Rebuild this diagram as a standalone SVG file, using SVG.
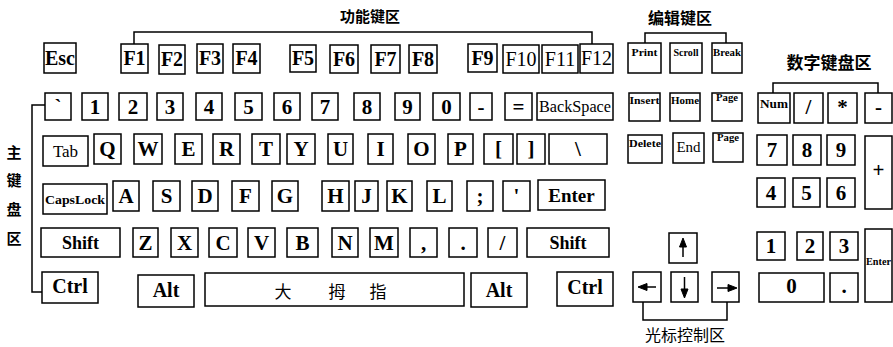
<svg xmlns="http://www.w3.org/2000/svg" width="893" height="347" viewBox="0 0 893 347">
<style>
.k{fill:#fff;stroke:#000;stroke-width:1.5}
.t{font-family:"Liberation Serif","Times New Roman",serif;font-weight:bold;font-size:21px;text-anchor:middle;fill:#000}
.r{font-weight:normal}
.sm{font-size:11px}
.cj{font-family:"Noto Sans CJK SC","Noto Sans",sans-serif;font-weight:bold;text-anchor:middle;fill:#000}
.nw{font-weight:normal}
.ln{fill:none;stroke:#000;stroke-width:1.5}
.ar{fill:#000;stroke:#000;stroke-width:1}
</style>
<rect width="893" height="347" fill="#fff"/>

<g id="labels">
<text class="cj" x="370" y="22" style="font-size:15px">功能键区</text>
<text class="cj" x="680" y="24" style="font-size:16px">编辑键区</text>
<text class="cj" x="829" y="69" style="font-size:17px">数字键盘区</text>
<text class="cj nw" x="685" y="341" style="font-size:16px">光标控制区</text>
<text class="cj" x="14" y="158" style="font-size:15px">主</text>
<text class="cj" x="14" y="186" style="font-size:15px">键</text>
<text class="cj" x="14" y="215" style="font-size:15px">盘</text>
<text class="cj" x="14" y="244" style="font-size:15px">区</text>
</g>

<g id="connectors">
<polyline class="ln" points="134,44 134,32 592,32 592,44"/>
<polyline class="ln" points="645,43 645,33 726,33 726,43"/>
<polyline class="ln" points="773,93 773,83 878,83 878,93"/>
<polyline class="ln" points="45,105 32,105 32,292 42,292"/>
<polyline class="ln" points="643,302 643,320 727,320 727,302"/>
</g>

<!-- Row 1 -->
<g id="k-esc"><rect class="k" x="44" y="43" width="32" height="30"/><text class="t" x="60" y="65" style="font-size:20px">Esc</text></g>
<g id="k-f1"><rect class="k" x="121" y="44" width="27" height="29"/><text class="t" x="134.5" y="65" style="font-size:20px">F1</text></g>
<g id="k-f2"><rect class="k" x="159" y="45" width="26" height="29"/><text class="t" x="172" y="66" style="font-size:20px">F2</text></g>
<g id="k-f3"><rect class="k" x="197" y="44" width="26" height="29"/><text class="t" x="210" y="65" style="font-size:20px">F3</text></g>
<g id="k-f4"><rect class="k" x="233" y="44" width="27" height="29"/><text class="t" x="246.5" y="65" style="font-size:20px">F4</text></g>
<g id="k-f5"><rect class="k" x="290" y="45" width="26" height="27"/><text class="t" x="303" y="65" style="font-size:20px">F5</text></g>
<g id="k-f6"><rect class="k" x="330" y="45" width="28" height="28"/><text class="t" x="344" y="66" style="font-size:20px">F6</text></g>
<g id="k-f7"><rect class="k" x="371" y="45" width="29" height="28"/><text class="t" x="385.5" y="66" style="font-size:20px">F7</text></g>
<g id="k-f8"><rect class="k" x="409" y="45" width="28" height="28"/><text class="t" x="423" y="66" style="font-size:20px">F8</text></g>
<g id="k-f9"><rect class="k" x="468" y="44" width="29" height="28"/><text class="t" x="482.5" y="65" style="font-size:20px">F9</text></g>
<g id="k-f10"><rect class="k" x="503" y="45" width="36" height="28"/><text class="t r" x="521" y="66" style="font-size:20px">F10</text></g>
<g id="k-f11"><rect class="k" x="542" y="45" width="36" height="28"/><text class="t r" x="560" y="66" style="font-size:20px">F11</text></g>
<g id="k-f12"><rect class="k" x="580" y="44" width="33" height="29"/><text class="t r" x="596.5" y="65" style="font-size:20px">F12</text></g>
<g id="k-print"><rect class="k" x="628" y="43" width="33" height="30"/><text class="t sm" x="644.5" y="56" textLength="26" lengthAdjust="spacingAndGlyphs">Print</text></g>
<g id="k-scroll"><rect class="k" x="670" y="43" width="32" height="30"/><text class="t sm" x="686" y="56" textLength="25" lengthAdjust="spacingAndGlyphs">Scroll</text></g>
<g id="k-break"><rect class="k" x="712" y="43" width="30" height="30"/><text class="t sm" x="727" y="56" textLength="28" lengthAdjust="spacingAndGlyphs">Break</text></g>

<!-- Row 2 -->
<g id="k-grave"><rect class="k" x="45" y="93" width="26" height="27"/><text class="t" x="58" y="114">`</text></g>
<g id="k-1"><rect class="k" x="82" y="93" width="26" height="27"/><text class="t" x="95" y="114">1</text></g>
<g id="k-2"><rect class="k" x="119" y="93" width="28" height="27"/><text class="t" x="133" y="114">2</text></g>
<g id="k-3"><rect class="k" x="157" y="93" width="26" height="27"/><text class="t" x="170" y="114">3</text></g>
<g id="k-4"><rect class="k" x="196" y="93" width="26" height="27"/><text class="t" x="209" y="114">4</text></g>
<g id="k-5"><rect class="k" x="235" y="93" width="27" height="27"/><text class="t" x="248.5" y="114">5</text></g>
<g id="k-6"><rect class="k" x="274" y="93" width="26" height="27"/><text class="t" x="287" y="114">6</text></g>
<g id="k-7"><rect class="k" x="312" y="93" width="26" height="27"/><text class="t" x="325" y="114">7</text></g>
<g id="k-8"><rect class="k" x="354" y="93" width="26" height="27"/><text class="t" x="367" y="114">8</text></g>
<g id="k-9"><rect class="k" x="395" y="93" width="25" height="27"/><text class="t" x="407.5" y="114">9</text></g>
<g id="k-0"><rect class="k" x="433" y="93" width="27" height="27"/><text class="t" x="446.5" y="114">0</text></g>
<g id="k-minus"><rect class="k" x="470" y="93" width="22" height="27"/><text class="t" x="481" y="114">-</text></g>
<g id="k-equal"><rect class="k" x="505" y="93" width="27" height="27"/><text class="t" x="518.5" y="114">=</text></g>
<g id="k-backspace"><rect class="k" x="537" y="93" width="76" height="27"/><text class="t r" x="575" y="112" style="font-size:16px" textLength="72" lengthAdjust="spacingAndGlyphs">BackSpace</text></g>
<g id="k-insert"><rect class="k" x="629" y="93" width="31" height="28"/><text class="t sm" x="644.5" y="104" textLength="30" lengthAdjust="spacingAndGlyphs">Insert</text></g>
<g id="k-home"><rect class="k" x="670" y="93" width="30" height="28"/><text class="t sm" x="685" y="104" textLength="28" lengthAdjust="spacingAndGlyphs">Home</text></g>
<g id="k-pageup"><rect class="k" x="712" y="93" width="30" height="28"/><text class="t sm" x="727" y="101" textLength="22" lengthAdjust="spacingAndGlyphs">Page</text></g>
<g id="k-num"><rect class="k" x="758" y="93" width="32" height="30"/><text class="t" x="774" y="108" style="font-size:12px" textLength="28" lengthAdjust="spacingAndGlyphs">Num</text></g>
<g id="k-div"><rect class="k" x="794" y="93" width="29" height="30"/><text class="t" x="808.5" y="114">/</text></g>
<g id="k-mul"><rect class="k" x="828" y="93" width="29" height="30"/><text class="t" x="842.5" y="114">*</text></g>
<g id="k-sub"><rect class="k" x="865" y="93" width="27" height="30"/><text class="t" x="878.5" y="114">-</text></g>

<!-- Row 3 -->
<g id="k-tab"><rect class="k" x="43" y="136" width="45" height="30"/><text class="t r" x="65.5" y="157" style="font-size:17px">Tab</text></g>
<g id="k-q"><rect class="k" x="94" y="134" width="27" height="30"/><text class="t" x="107.5" y="156">Q</text></g>
<g id="k-w"><rect class="k" x="134" y="134" width="28" height="30"/><text class="t" x="148" y="156">W</text></g>
<g id="k-e"><rect class="k" x="175" y="134" width="27" height="30"/><text class="t" x="188.5" y="156">E</text></g>
<g id="k-r"><rect class="k" x="213" y="134" width="27" height="30"/><text class="t" x="226.5" y="156">R</text></g>
<g id="k-t"><rect class="k" x="252" y="134" width="28" height="30"/><text class="t" x="266" y="156">T</text></g>
<g id="k-y"><rect class="k" x="287" y="134" width="28" height="30"/><text class="t" x="301" y="156">Y</text></g>
<g id="k-u"><rect class="k" x="328" y="134" width="25" height="30"/><text class="t" x="340.5" y="156">U</text></g>
<g id="k-i"><rect class="k" x="368" y="134" width="25" height="30"/><text class="t" x="380.5" y="156">I</text></g>
<g id="k-o"><rect class="k" x="408" y="134" width="27" height="30"/><text class="t" x="421.5" y="156">O</text></g>
<g id="k-p"><rect class="k" x="448" y="134" width="25" height="30"/><text class="t" x="460.5" y="156">P</text></g>
<g id="k-lbr"><rect class="k" x="484" y="134" width="29" height="30"/><text class="t" x="498.5" y="156">[</text></g>
<g id="k-rbr"><rect class="k" x="517" y="134" width="28" height="30"/><text class="t" x="531" y="156">]</text></g>
<g id="k-bslash"><rect class="k" x="549" y="134" width="58" height="30"/><text class="t" x="578" y="156">\</text></g>
<g id="k-delete"><rect class="k" x="628" y="135" width="34" height="28"/><text class="t sm" x="645" y="147" textLength="32" lengthAdjust="spacingAndGlyphs">Delete</text></g>
<g id="k-end"><rect class="k" x="673" y="133" width="31" height="30"/><text class="t r" x="688.5" y="152" style="font-size:15px">End</text></g>
<g id="k-pagedown"><rect class="k" x="713" y="133" width="30" height="29"/><text class="t sm" x="728" y="141" textLength="22" lengthAdjust="spacingAndGlyphs">Page</text></g>
<g id="k-n7"><rect class="k" x="757" y="135" width="30" height="30"/><text class="t" x="772" y="157">7</text></g>
<g id="k-n8"><rect class="k" x="793" y="135" width="28" height="30"/><text class="t" x="807" y="157">8</text></g>
<g id="k-n9"><rect class="k" x="827" y="135" width="28" height="30"/><text class="t" x="841" y="157">9</text></g>
<g id="k-plus"><rect class="k" x="865" y="136" width="27" height="73"/><text class="t" x="878.5" y="177">+</text></g>

<!-- Row 4 -->
<g id="k-caps"><rect class="k" x="43" y="184" width="64" height="30"/><text class="t" x="75" y="204" style="font-size:12.5px" textLength="60" lengthAdjust="spacingAndGlyphs">CapsLock</text></g>
<g id="k-a"><rect class="k" x="113" y="181" width="26" height="30"/><text class="t" x="126" y="203">A</text></g>
<g id="k-s"><rect class="k" x="153" y="181" width="27" height="30"/><text class="t" x="166.5" y="203">S</text></g>
<g id="k-d"><rect class="k" x="192" y="181" width="26" height="30"/><text class="t" x="205" y="203">D</text></g>
<g id="k-f"><rect class="k" x="232" y="181" width="27" height="30"/><text class="t" x="245.5" y="203">F</text></g>
<g id="k-g"><rect class="k" x="272" y="181" width="26" height="30"/><text class="t" x="285" y="203">G</text></g>
<g id="k-h"><rect class="k" x="322" y="181" width="27" height="30"/><text class="t" x="335.5" y="203">H</text></g>
<g id="k-j"><rect class="k" x="355" y="181" width="23" height="30"/><text class="t" x="366.5" y="203">J</text></g>
<g id="k-k"><rect class="k" x="387" y="181" width="25" height="30"/><text class="t" x="399.5" y="203">K</text></g>
<g id="k-l"><rect class="k" x="427" y="181" width="25" height="30"/><text class="t" x="439.5" y="203">L</text></g>
<g id="k-semi"><rect class="k" x="467" y="181" width="26" height="30"/><text class="t" x="480" y="203">;</text></g>
<g id="k-quote"><rect class="k" x="503" y="181" width="27" height="30"/><text class="t" x="516.5" y="203">'</text></g>
<g id="k-enter"><rect class="k" x="538" y="180" width="67" height="30"/><text class="t" x="571.5" y="202" style="font-size:19px">Enter</text></g>
<g id="k-n4"><rect class="k" x="757" y="178" width="28" height="29"/><text class="t" x="771" y="200">4</text></g>
<g id="k-n5"><rect class="k" x="793" y="178" width="27" height="29"/><text class="t" x="806.5" y="200">5</text></g>
<g id="k-n6"><rect class="k" x="827" y="178" width="28" height="29"/><text class="t" x="841" y="200">6</text></g>

<!-- Row 5 -->
<g id="k-lshift"><rect class="k" x="41" y="228" width="79" height="29"/><text class="t" x="80.5" y="249" style="font-size:18px">Shift</text></g>
<g id="k-z"><rect class="k" x="133" y="228" width="25" height="29"/><text class="t" x="145.5" y="249.5">Z</text></g>
<g id="k-x"><rect class="k" x="171" y="228" width="27" height="29"/><text class="t" x="184.5" y="249.5">X</text></g>
<g id="k-c"><rect class="k" x="209" y="228" width="28" height="29"/><text class="t" x="223" y="249.5">C</text></g>
<g id="k-v"><rect class="k" x="248" y="228" width="27" height="29"/><text class="t" x="261.5" y="249.5">V</text></g>
<g id="k-b"><rect class="k" x="287" y="228" width="31" height="29"/><text class="t" x="302.5" y="249.5">B</text></g>
<g id="k-n"><rect class="k" x="332" y="228" width="26" height="29"/><text class="t" x="345" y="249.5">N</text></g>
<g id="k-m"><rect class="k" x="370" y="228" width="28" height="29"/><text class="t" x="384" y="249.5">M</text></g>
<g id="k-comma"><rect class="k" x="410" y="228" width="27" height="29"/><text class="t" x="423.5" y="249.5">,</text></g>
<g id="k-period"><rect class="k" x="449" y="228" width="28" height="29"/><text class="t" x="463" y="249.5">.</text></g>
<g id="k-slash"><rect class="k" x="488" y="228" width="29" height="29"/><text class="t" x="502.5" y="249.5">/</text></g>
<g id="k-rshift"><rect class="k" x="527" y="228" width="82" height="29"/><text class="t" x="568" y="249" style="font-size:18px">Shift</text></g>
<g id="k-up"><rect class="k" x="669" y="233" width="28" height="30"/><line class="ln" x1="683" y1="257" x2="683" y2="244"/><polygon class="ar" points="683,238 679.5,247 686.5,247"/></g>
<g id="k-n1"><rect class="k" x="757" y="232" width="28" height="28"/><text class="t" x="771" y="253">1</text></g>
<g id="k-n2"><rect class="k" x="797" y="232" width="26" height="28"/><text class="t" x="810" y="253">2</text></g>
<g id="k-n3"><rect class="k" x="830" y="232" width="28" height="28"/><text class="t" x="844" y="253">3</text></g>
<g id="k-nenter"><rect class="k" x="865" y="229" width="27" height="73"/><text class="t" x="866" y="265" style="font-size:10px;text-anchor:start" textLength="25" lengthAdjust="spacingAndGlyphs">Enter</text></g>

<!-- Row 6 -->
<g id="k-lctrl"><rect class="k" x="42" y="272" width="56" height="31"/><text class="t" x="70" y="293" style="font-size:20px">Ctrl</text></g>
<g id="k-lalt"><rect class="k" x="138" y="275" width="56" height="32"/><text class="t" x="166" y="297" style="font-size:20px">Alt</text></g>
<g id="k-space"><rect class="k" x="205" y="273" width="259" height="33"/><text class="cj nw" x="283" y="298" style="font-size:17px">大</text><text class="cj nw" x="337" y="298" style="font-size:17px">拇</text><text class="cj nw" x="378" y="298" style="font-size:17px">指</text></g>
<g id="k-ralt"><rect class="k" x="471" y="273" width="56" height="34"/><text class="t" x="499" y="297" style="font-size:20px">Alt</text></g>
<g id="k-rctrl"><rect class="k" x="557" y="272" width="56" height="34"/><text class="t" x="585" y="294" style="font-size:20px">Ctrl</text></g>
<g id="k-left"><rect class="k" x="633" y="272" width="28" height="30"/><line class="ln" x1="645" y1="287" x2="656" y2="287"/><polygon class="ar" points="638,287 647,283.5 647,290.5"/></g>
<g id="k-down"><rect class="k" x="671" y="272" width="27" height="30"/><line class="ln" x1="684.5" y1="277" x2="684.5" y2="291"/><polygon class="ar" points="684.5,298 681,289 688,289"/></g>
<g id="k-right"><rect class="k" x="712" y="272" width="27" height="30"/><line class="ln" x1="717" y1="288" x2="729" y2="288"/><polygon class="ar" points="737,288 728,284.5 728,291.5"/></g>
<g id="k-n0"><rect class="k" x="759" y="273" width="65" height="29"/><text class="t" x="791.5" y="293">0</text></g>
<g id="k-ndot"><rect class="k" x="830" y="273" width="28" height="29"/><text class="t" x="844" y="293">.</text></g>
</svg>
